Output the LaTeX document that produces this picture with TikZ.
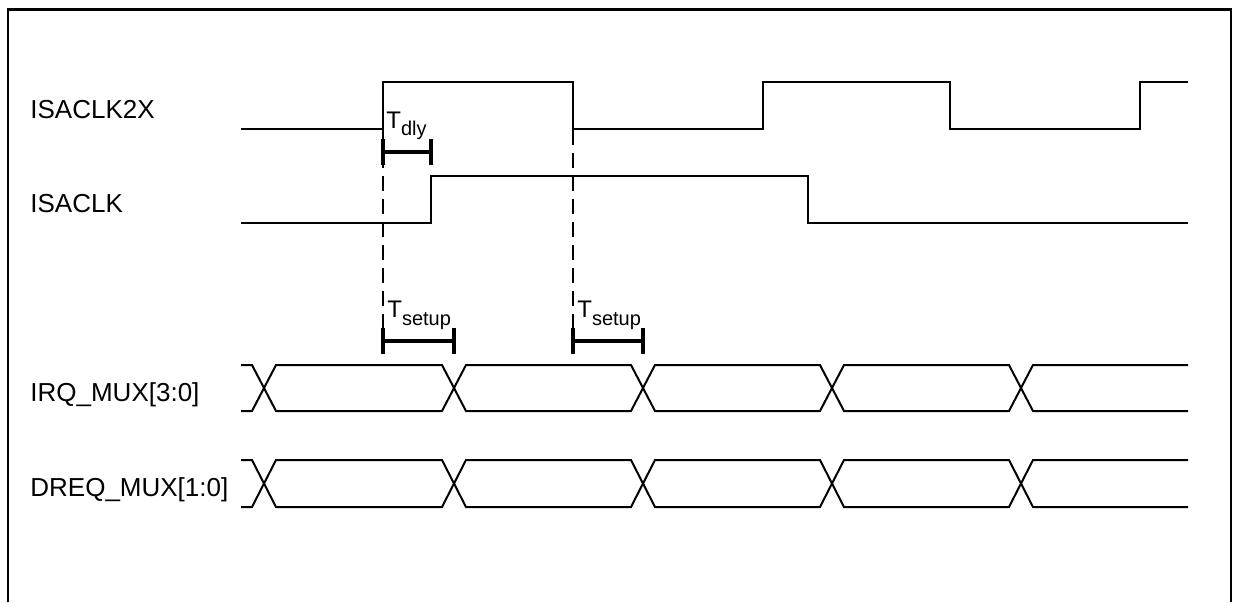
\documentclass[tikz,border=0pt]{standalone}
\usepackage{fontspec}
\setmainfont{Liberation Sans}
\newcommand{\busrow}[2]{%
  \draw[sig] (241,#1) -- (252,#1) -- (276,#2) -- (442,#2) -- (466,#1) -- (631,#1) -- (655,#2) -- (820,#2) -- (844,#1) -- (1009,#1) -- (1033,#2) -- (1188,#2);
  \draw[sig] (241,#2) -- (252,#2) -- (276,#1) -- (442,#1) -- (466,#2) -- (631,#2) -- (655,#1) -- (820,#1) -- (844,#2) -- (1009,#2) -- (1033,#1) -- (1188,#1);
}
\begin{document}
\begin{tikzpicture}[x=0.5pt,y=-0.5pt,
  sig/.style={line width=1pt, line join=miter},
  meas/.style={line width=1.7pt},
  guide/.style={line width=1pt, dash pattern=on 7.5pt off 4pt},
  lbl/.style={anchor=base west, inner sep=0pt, font=\fontsize{13}{15}\selectfont},
  tlbl/.style={anchor=base west, inner sep=0pt, font=\fontsize{12}{14}\selectfont}]
\useasboundingbox (0,0) rectangle (1233,602);
\fill[white] (0,0) rectangle (1233,602);
% frame
\draw[line width=1pt] (8,602) -- (8,9) (1231,9) -- (1231,602);
\draw[line width=1.5pt] (7,9) -- (1232,9);
% labels
\node[lbl] (l1) at (30,118) {ISACLK2X};
\node[lbl] (l2) at (30,212) {ISACLK};
\node[lbl] (l3) at (30,401) {IRQ\_MUX[3:0]};
\node[lbl] (l4) at (30,496) {DREQ\_MUX[1:0]};
% ISACLK2X
\draw[sig] (241,129) -- (383,129) -- (383,82) -- (573,82) -- (573,129) -- (763,129) -- (763,82) -- (950,82) -- (950,129) -- (1140,129) -- (1140,82) -- (1188,82);
% ISACLK
\draw[sig] (241,223) -- (431,223) -- (431,176) -- (808,176) -- (808,223) -- (1188,223);
% buses
\busrow{365}{411}
\busrow{460}{507}
% guide lines
\draw[guide] (383,130) -- (383,328);
\draw[guide] (573,130) -- (573,328);
% Tdly
\draw[meas] (383,152) -- (431,152);
\draw[meas] (383,139) -- (383,165);
\draw[meas] (431,139) -- (431,165);
\node[tlbl] (tdly) at (386,128) {T\raisebox{-3.5pt}{\fontsize{10}{11}\selectfont dly}};
% Tsetup 1
\draw[meas] (383,341) -- (454,341);
\draw[meas] (383,328) -- (383,354);
\draw[meas] (454,328) -- (454,354);
\node[tlbl] (ts1) at (387,317) {T\raisebox{-4pt}{\fontsize{10}{11}\selectfont setup}};
% Tsetup 2
\draw[meas] (573,341) -- (643,341);
\draw[meas] (573,328) -- (573,354);
\draw[meas] (643,328) -- (643,354);
\node[tlbl] (ts2) at (577,317) {T\raisebox{-4pt}{\fontsize{10}{11}\selectfont setup}};
\end{tikzpicture}
\end{document}
